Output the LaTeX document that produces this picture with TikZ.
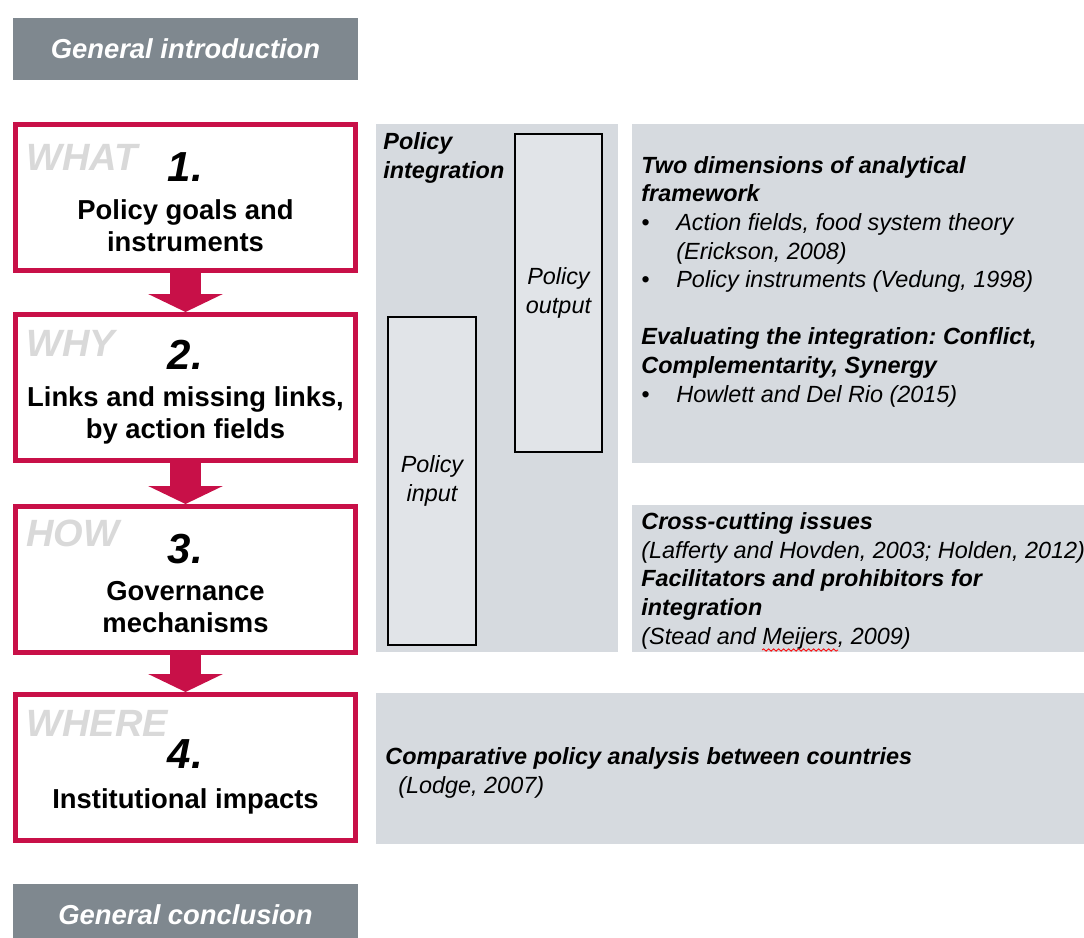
\documentclass[tikz,border=0pt]{standalone}
\usepackage{fontspec}
\setmainfont{Liberation Sans}
\usetikzlibrary{arrows.meta, positioning, decorations.pathmorphing}
\definecolor{colorStep}{RGB}{200,16,72}
\definecolor{colorBanner}{RGB}{127,136,143}
\definecolor{colorPanel}{RGB}{214,218,223}
\definecolor{colorBox}{RGB}{225,228,232}
\definecolor{colorTag}{RGB}{217,217,217}
\frenchspacing
\tikzset{
  banner/.style={fill=colorBanner, text=white, font=\fontsize{13.7}{16}\selectfont\bfseries\itshape, minimum width=172.5pt, minimum height=31pt, inner sep=0pt},
  stepbox/.style={draw=colorStep, line width=2.5pt, fill=white, minimum width=170pt, minimum height=73pt, align=center, font=\fontsize{13.7}{16}\selectfont\bfseries, inner sep=0pt},
  steptag/.style={text=colorTag, font=\fontsize{19}{22}\selectfont\bfseries\itshape, inner sep=0pt, anchor=base west},
  flow/.style={draw=colorStep, line width=15.5pt, -{Triangle[width=37pt,length=9pt]}},
  panel/.style={fill=colorPanel, anchor=north west, inner sep=0pt},
  policybox/.style={draw, line width=1pt, fill=colorBox, align=center, font=\fontsize{11.7}{14.2}\selectfont\itshape},
  paneltext/.style={align=left, anchor=base west, inner sep=0pt, font=\fontsize{11.7}{14.3}\selectfont\itshape},
  spellmark/.style={draw=red, line width=0.4pt, decorate, decoration={snake, amplitude=0.6pt, segment length=2.5pt}},
}
\newcommand{\stepnum}[2][19pt]{{\fontsize{21}{24}\selectfont\itshape\rule{0pt}{#1}#2}}
\newcommand{\pbul}{\makebox[17.5pt][l]{\textbullet}}
\newcommand{\pind}{\hspace*{17.5pt}}

\begin{document}
\begin{tikzpicture}[x=0.5pt, y=-0.5pt]
\useasboundingbox (0,0) rectangle (1084,938);
% steps
\node[banner] (intro) at (185.5,49) {General introduction};
\node[stepbox] (s1) at (185.5,197.5) {\stepnum{1.}\\[3pt]Policy goals and\\instruments};
\node[stepbox, below=19.5pt of s1] (s2) {\stepnum{2.}\\[2.5pt]Links and missing links,\\by action fields};
\node[stepbox, below=20.5pt of s2] (s3) {\stepnum{3.}\\[2.5pt]Governance\\mechanisms};
\node[stepbox, below=18.5pt of s3] (s4) {\stepnum[23.5pt]{4.}\\[4pt]Institutional impacts};
\node[banner] (concl) at (185.5,915) {General conclusion};
\node[steptag] (t1) at ([xshift=6.5pt,yshift=-24pt]s1.north west) {WHAT};
\node[steptag] (t2) at ([xshift=6.5pt,yshift=-22pt]s2.north west) {WHY};
\node[steptag] (t3) at ([xshift=6.5pt,yshift=-21pt]s3.north west) {HOW};
\node[steptag] (t4) at ([xshift=6.5pt,yshift=-22pt]s4.north west) {WHERE};
\draw (s1) edge[flow] (s2) (s2) edge[flow] (s3) (s3) edge[flow] (s4);
% policy integration
\node[panel, minimum width=121pt, minimum height=264pt] (pint) at (376,124) {};
\node[paneltext, font=\fontsize{11.7}{14.3}\selectfont\bfseries\itshape] (plabel) at (383,178) {Policy\\integration};
\node[policybox, minimum width=43.5pt, minimum height=159pt] (pout) at (558.5,293) {Policy\\output};
\node[policybox, minimum width=44pt, minimum height=164pt] (pin) at (432,481) {Policy\\input};
% framework
\node[panel, minimum width=230pt, minimum height=169.5pt] (frame) at (632,124) {};
\node[paneltext] (frametext) at (641,402) {\textbf{Two dimensions of analytical}\\
  \textbf{framework}\\
  \pbul Action fields, food system theory\\
  \pind(Erickson, 2008)\\
  \pbul Policy instruments (Vedung, 1998)\\[14.3pt]
  \textbf{Evaluating the integration: Conflict,}\\
  \textbf{Complementarity, Synergy}\\
  \pbul Howlett and Del Rio (2015)};
\node[panel, minimum width=230pt, minimum height=73.5pt] (issues) at (632,505) {};
\node[paneltext] (issuestext) at (641,644) {\textbf{Cross-cutting issues}\\
  (Lafferty and Hovden, 2003; Holden, 2012)\\
  \textbf{Facilitators and prohibitors for}\\
  \textbf{integration}\\
  (Stead and Meijers, 2009)};
\draw[spellmark] (762,650) -- (838,650);
% comparison
\node[panel, minimum width=358pt, minimum height=75.5pt] (compare) at (376,693) {};
\node[paneltext] (comparetext) at (385,793) {\textbf{Comparative policy analysis between countries}\\
  \hspace*{6.5pt}(Lodge, 2007)};
\end{tikzpicture}
\end{document}
